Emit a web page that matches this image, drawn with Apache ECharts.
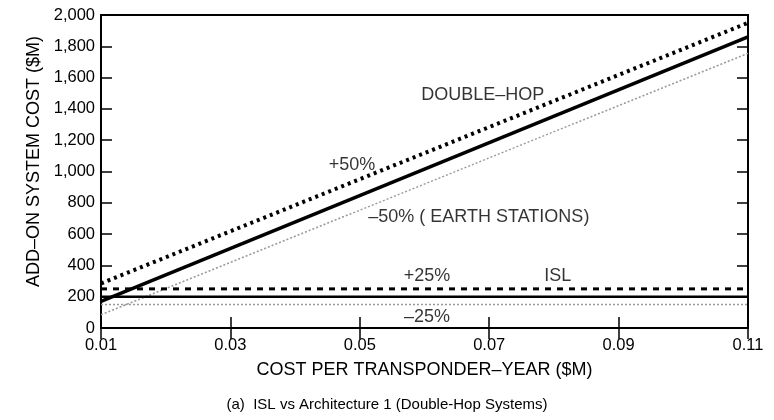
<!DOCTYPE html>
<html>
<head>
<meta charset="utf-8">
<script src="https://cdn.jsdelivr.net/npm/echarts@6/dist/echarts.min.js"></script>
<style>
html,body{margin:0;padding:0;background:#fff;}
#chart{width:774px;height:420px;}
</style>
</head>
<body>
<div id="chart"></div>
<script>
// x values (cost per transponder-year, $M)
const xCosts = [0.01, 0.11];
// Double-hop system add-on cost ($M)
const doubleHop = [170, 1860];
const doubleHopPlus50 = [285, 1950];
const doubleHopMinus50 = [85, 1755];
// ISL add-on cost ($M)
const isl = [200, 200];
const islPlus25 = [250, 250];
const islMinus25 = [150, 150];
// tick labels
const xTicks = [0.01, 0.03, 0.05, 0.07, 0.09, 0.11];
const yTicks = [0, 200, 400, 600, 800, 1000, 1200, 1400, 1600, 1800, 2000];
// annotation texts and their data anchors [x, y]
const noteTexts = ['DOUBLE–HOP', '+50%', '–50% ( EARTH STATIONS)', '+25%', 'ISL', '–25%'];
const noteAnchors = [[0.0690, 1489], [0.0488, 1042], [0.0684, 709], [0.0604, 332], [0.0806, 332], [0.0604, 70]];

const pair = (ys) => xCosts.map((x, i) => [x, ys[i]]);
const FONT = '"Liberation Sans", Arial, sans-serif';

const chart = echarts.init(document.getElementById('chart'), null, {renderer: 'canvas'});

const tickStyle = {lineStyle: {color: '#000', width: 1.5}, length: 11, inside: true};

const option = {
  animation: false,
  backgroundColor: '#fff',
  textStyle: {fontFamily: FONT},
  title: {
    text: '(a)  ISL vs Architecture 1 (Double-Hop Systems)',
    left: 'center',
    top: 392,
    textStyle: {fontFamily: FONT, fontSize: 15, fontWeight: 'normal', color: '#000'}
  },
  grid: {left: 101, right: 26, top: 15, bottom: 92, show: true, borderColor: '#000', borderWidth: 2, backgroundColor: 'transparent'},
  xAxis: [{
    type: 'value', min: 0.01, max: 0.11,
    name: 'COST PER TRANSPONDER–YEAR ($M)', nameLocation: 'middle', nameGap: 33,
    nameTextStyle: {fontFamily: FONT, fontSize: 18, color: '#000'},
    axisLine: {show: true, lineStyle: {color: '#000', width: 2}},
    axisTick: Object.assign({customValues: xTicks}, tickStyle),
    axisLabel: {customValues: xTicks, formatter: v => v.toFixed(2), fontFamily: FONT, fontSize: 16.5, color: '#000', margin: 9},
    splitLine: {show: false}
  }, {
    type: 'value', min: 0.01, max: 0.11, position: 'top',
    axisLine: {show: false},
    axisTick: Object.assign({customValues: xTicks}, tickStyle),
    axisLabel: {show: false},
    splitLine: {show: false}
  }],
  yAxis: [{
    type: 'value', min: 0, max: 2000, interval: 200,
    name: 'ADD–ON SYSTEM COST ($M)', nameLocation: 'middle', nameGap: 58, nameRotate: 90,
    nameTextStyle: {fontFamily: FONT, fontSize: 18, color: '#000', padding: [0, 0, 0, 20]},
    axisLine: {show: true, lineStyle: {color: '#000', width: 2}},
    axisTick: tickStyle,
    axisLabel: {formatter: v => v.toLocaleString('en-US'), fontFamily: FONT, fontSize: 16.5, color: '#000', margin: 6},
    splitLine: {show: false}
  }, {
    type: 'value', min: 0, max: 2000, interval: 200, position: 'right',
    axisLine: {show: false},
    axisTick: tickStyle,
    axisLabel: {show: false},
    splitLine: {show: false}
  }],
  series: [
    {name: 'Double-hop -50%', type: 'line', data: pair(doubleHopMinus50), symbol: 'none',
     lineStyle: {color: '#9a9a9a', width: 1.5, type: [2, 2]}, z: 2},
    {name: 'ISL -25%', type: 'line', data: pair(islMinus25), symbol: 'none',
     lineStyle: {color: '#9a9a9a', width: 1.5, type: [2, 2]}, z: 2},
    {name: 'ISL +25%', type: 'line', data: pair(islPlus25), symbol: 'none',
     lineStyle: {color: '#000', width: 3, type: [6, 6]}, z: 3},
    {name: 'ISL', type: 'line', data: pair(isl), symbol: 'none',
     lineStyle: {color: '#000', width: 2.5}, z: 3},
    {name: 'Double-hop +50%', type: 'line', data: pair(doubleHopPlus50), symbol: 'none',
     lineStyle: {color: '#000', width: 4, type: [3, 4]}, z: 3},
    {name: 'Double-hop', type: 'line', data: pair(doubleHop), symbol: 'none',
     lineStyle: {color: '#000', width: 3.5}, z: 4},
    {name: 'notes', type: 'scatter', symbolSize: 0, silent: true, z: 5,
     data: noteAnchors.map((p, i) => ({value: p, name: noteTexts[i]})),
     label: {show: true, position: 'inside', formatter: p => p.name,
       fontFamily: FONT, fontSize: 18, color: '#000', backgroundColor: 'transparent'}}
  ]
};
chart.setOption(option);
</script>
</body>
</html>
